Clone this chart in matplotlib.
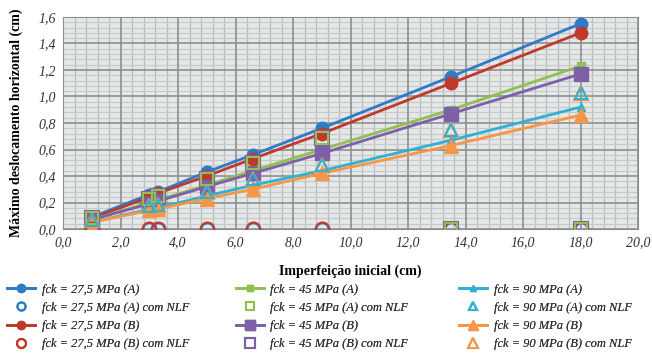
import matplotlib.pyplot as plt
from matplotlib.ticker import MultipleLocator, FuncFormatter

# imperfeição inicial (cm)
x = [1.0, 3.0, 3.3, 5.0, 6.6, 9.0, 13.5, 18.0]

# deslocamento máximo horizontal (cm)
y_275_a = [0.09, 0.26, 0.28, 0.43, 0.56, 0.76, 1.15, 1.55]
y_275_b = [0.08, 0.24, 0.27, 0.40, 0.53, 0.72, 1.10, 1.48]
y_45_a = [0.07, 0.20, 0.22, 0.33, 0.44, 0.60, 0.90, 1.23]
y_45_b = [0.07, 0.19, 0.21, 0.32, 0.42, 0.57, 0.87, 1.17]
y_90_a = [0.05, 0.15, 0.16, 0.25, 0.33, 0.44, 0.67, 0.92]
y_90_b = [0.05, 0.14, 0.15, 0.23, 0.30, 0.42, 0.63, 0.86]

# com NLF
y_275_a_nlf = [0, 0, 0, 0, 0, 0, 0, 0]
y_275_b_nlf = [0, 0, 0, 0, 0, 0, 0, 0]
y_45_a_nlf = [0.08, 0.23, 0.25, 0.38, 0.50, 0.69, 0, 0]
y_45_b_nlf = [0.08, 0.23, 0.25, 0.38, 0.50, 0.69, 0, 0]
y_90_a_nlf = [0.07, 0.17, 0.18, 0.28, 0.38, 0.48, 0.75, 1.03]
y_90_b_nlf = [0.07, 0.17, 0.18, 0.28, 0.38, 0.48, 0.75, 1.03]

azul = '#2E7BC9'
vermelho = '#C0392B'
verde = '#92C050'
roxo = '#7E60A8'
ciano = '#31B0CF'
laranja = '#F79646'

plt.rcParams['font.family'] = ['Liberation Serif', 'DejaVu Serif']

fig = plt.figure(figsize=(6.52, 3.58), dpi=100)
ax = fig.add_axes([63 / 652, 1 - 229 / 358, 575 / 652, 212 / 358])
ax.set_facecolor('#e6e8e8')

h = {}
h['a275'], = ax.plot(x, y_275_a, '-o', color=azul, lw=2, ms=9, zorder=5)
h['b275'], = ax.plot(x, y_275_b, '-o', color=vermelho, lw=2, ms=9, zorder=5)
h['a45'], = ax.plot(x, y_45_a, '-s', color=verde, lw=2, ms=6, zorder=5)
h['b45'], = ax.plot(x, y_45_b, '-s', color=roxo, lw=2, ms=10, zorder=5)
h['a90'], = ax.plot(x, y_90_a, '-^', color=ciano, lw=2, ms=6, zorder=5)
h['b90'], = ax.plot(x, y_90_b, '-^', color=laranja, lw=2, ms=10, zorder=5)

h['a275n'], = ax.plot(x, y_275_a_nlf, 'o', mfc='none', mec=azul, mew=1.5, ms=9, ls='none', zorder=6)
h['b275n'], = ax.plot(x, y_275_b_nlf, 'o', mfc='none', mec=vermelho, mew=1.5, ms=10, ls='none', zorder=6)
h['b45n'], = ax.plot(x, y_45_b_nlf, 's', mfc='none', mec=roxo, mew=1.5, ms=10, ls='none', zorder=6)
h['a45n'], = ax.plot(x, y_45_a_nlf, 's', mfc='none', mec=verde, mew=1.5, ms=8, ls='none', zorder=6)
h['b90n'], = ax.plot(x, y_90_b_nlf, '^', mfc='none', mec=laranja, mew=1.5, ms=10, ls='none', zorder=6)
h['a90n'], = ax.plot(x, y_90_a_nlf, '^', mfc='none', mec=ciano, mew=1.5, ms=8, ls='none', zorder=6)

ax.set_xlim(0, 20)
ax.set_ylim(0, 1.6)
ax.xaxis.set_major_locator(MultipleLocator(2))
ax.xaxis.set_minor_locator(MultipleLocator(0.4))
ax.yaxis.set_major_locator(MultipleLocator(0.2))
ax.yaxis.set_minor_locator(MultipleLocator(0.04))
virgula = FuncFormatter(lambda v, p: f'{v:.1f}'.replace('.', ','))
ax.xaxis.set_major_formatter(virgula)
ax.yaxis.set_major_formatter(virgula)

# grade secundária pelo eixo, principal por cima (senão fica tracejada)
ax.xaxis.grid(True, which='minor', color='#b9bdbd', lw=0.9)
ax.yaxis.grid(True, which='minor', color='#c6caca', lw=0.9)
ax.set_axisbelow(True)
for v in ax.get_xticks():
    ax.axvline(v, color='#8a9090', lw=1.2, zorder=2)
for v in ax.get_yticks():
    ax.axhline(v, color='#8a9090', lw=1.2, zorder=2)
ax.set_xlim(0, 20)
ax.set_ylim(0, 1.6)

for s in ax.spines.values():
    s.set_color('#8a9090')
ax.tick_params(which='both', length=0, labelsize=10, colors='#333333', pad=5)
for t in ax.get_xticklabels() + ax.get_yticklabels():
    t.set_fontstyle('italic')

ax.set_xlabel('Imperfeição inicial (cm)', fontsize=10, fontweight='bold', labelpad=11)
ax.set_ylabel('Máximo deslocamento horizontal (cm)', fontsize=10, fontweight='bold', labelpad=11)

colunas = [
    ['a275', 'a275n', 'b275', 'b275n'],
    ['a45', 'a45n', 'b45', 'b45n'],
    ['a90', 'a90n', 'b90', 'b90n'],
]
rotulos = {
    'a275': 'fck = 27,5 MPa (A)', 'a275n': 'fck = 27,5 MPa (A) com NLF',
    'b275': 'fck = 27,5 MPa (B)', 'b275n': 'fck = 27,5 MPa (B) com NLF',
    'a45': 'fck = 45 MPa (A)', 'a45n': 'fck = 45 MPa (A) com NLF',
    'b45': 'fck = 45 MPa (B)', 'b45n': 'fck = 45 MPa (B) com NLF',
    'a90': 'fck = 90 MPa (A)', 'a90n': 'fck = 90 MPa (A) com NLF',
    'b90': 'fck = 90 MPa (B)', 'b90n': 'fck = 90 MPa (B) com NLF',
}
x_col = [4, 233, 456]
for i, col in enumerate(colunas):
    leg = fig.legend([h[k] for k in col], [rotulos[k] for k in col],
                     loc='upper left', bbox_to_anchor=(x_col[i] / 652, 1 - 281 / 358),
                     frameon=False, handlelength=2.3, handletextpad=0.5,
                     labelspacing=0.5, borderaxespad=0, borderpad=0.2,
                     markerscale=0.65, prop={'style': 'italic', 'size': 9})
    for t in leg.get_texts():
        t.set_color('#333333')
    fig.add_artist(leg)

fig.savefig('out.png', dpi=100)
